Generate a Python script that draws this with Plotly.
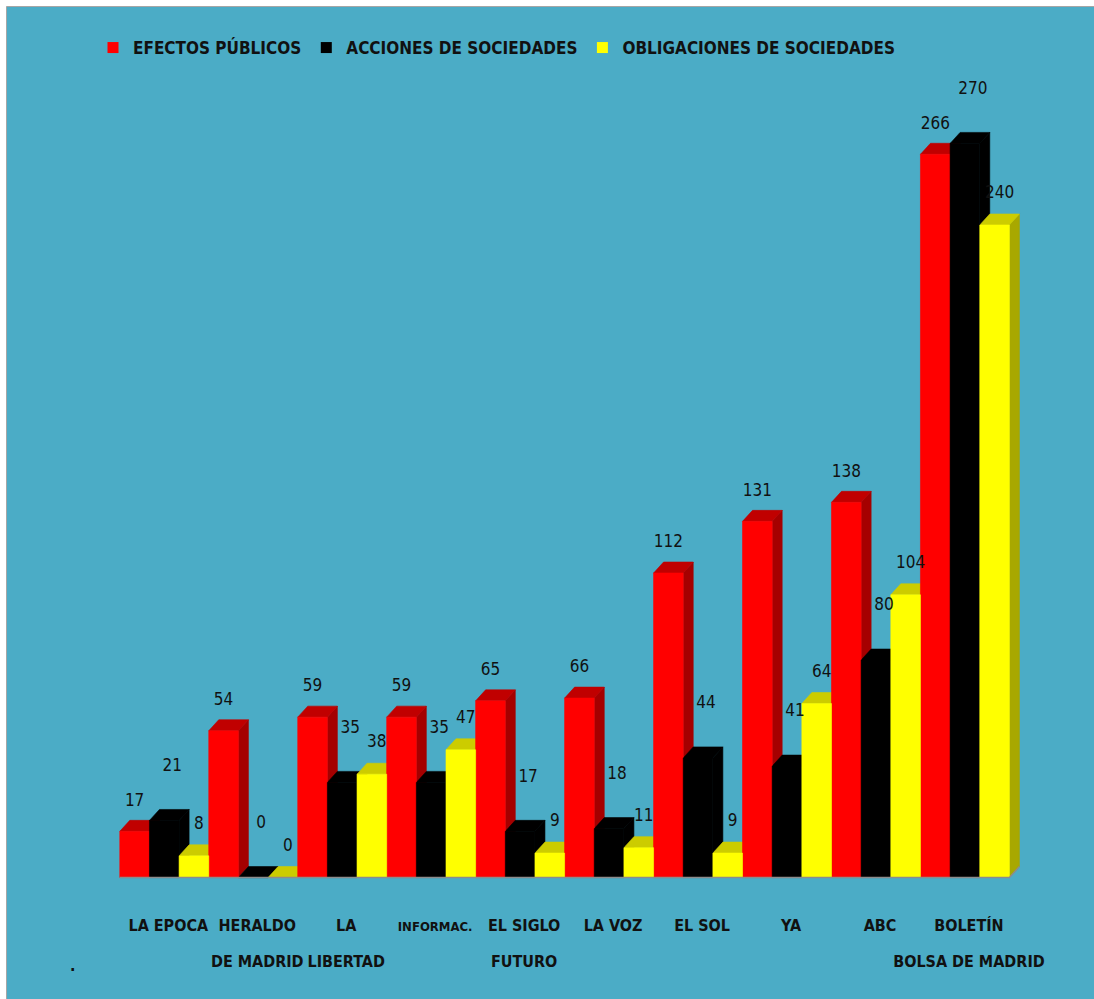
import plotly.graph_objects as go

# ---------------- data ----------------
labels_line1 = ["LA EPOCA", "HERALDO", "LA", "INFORMAC.", "EL SIGLO", "LA VOZ", "EL SOL", "YA", "ABC", "BOLETÍN"]
labels_line2 = ["", "DE MADRID", "LIBERTAD", "", "FUTURO", "", "", "", "", "BOLSA DE MADRID"]
efectos = [17, 54, 59, 59, 65, 66, 112, 131, 138, 266]
acciones = [21, 0, 35, 35, 17, 18, 44, 41, 80, 270]
obligaciones = [8, 0, 38, 47, 9, 11, 9, 64, 104, 240]
series_names = ["EFECTOS PÚBLICOS", "ACCIONES DE SOCIEDADES", "OBLIGACIONES DE SOCIEDADES"]

# ---------------- styling ----------------
TEAL = "#4BACC6"
FONT = "DejaVu Sans Condensed, Liberation Sans Narrow, sans-serif"
front_cols = ["#FF0000", "#000000", "#FFFF00"]
top_cols = ["#C00000", "#000000", "#CCCC00"]
side_cols = ["#A50000", "#000000", "#A8A800"]
label_dx_px = [0, 8, 5]      # label horizontal shift per series (px)
label_dy_px = [30, 54, 31]   # label vertical distance above front top (px)

W, H = 1094, 999
ML, MR, MT, MB = 102, 49, 70, 116
XR = [-0.7, 9.9]
YR = [-2, 297]
pw, ph = W - ML - MR, H - MT - MB
ppx = pw / (XR[1] - XR[0])
ppy = ph / (YR[1] - YR[0])
DX = 10 / ppx   # depth offset in data units
DY = 11 / ppy
BW = 1 / 3

series = [efectos, acciones, obligaciones]
n = len(labels_line1)

fig = go.Figure()

# floor edge
fig.add_trace(go.Scatter(
    x=[-0.5, n - 0.5, n - 0.5 + DX], y=[0, 0, DY], mode="lines",
    line=dict(color="#8C8C8C", width=1.5), hoverinfo="skip", showlegend=False,
    xaxis="x2", yaxis="y"))

def polys(kind, k):
    xs, ys = [], []
    for i, v in enumerate(series[k]):
        l = i - 0.5 + k * BW
        r = l + BW
        if kind == "side":
            px = [r, r + DX, r + DX, r, r]
            py = [0, DY, v + DY, v, 0]
        elif kind == "top":
            px = [l, r, r + DX, l + DX, l]
            py = [v, v, v + DY, v + DY, v]
        else:
            px = [l, r, r, l, l]
            py = [0, 0, v, v, 0]
        xs += px + [None]
        ys += py + [None]
    return xs, ys

for kind, cols in (("side", side_cols), ("top", top_cols), ("front", front_cols)):
    for k in range(3):
        xs, ys = polys(kind, k)
        fig.add_trace(go.Scatter(
            x=xs, y=ys, mode="lines", fill="toself", fillcolor=cols[k],
            line=dict(color=cols[k], width=0.6), hoverinfo="skip",
            showlegend=False))

# value labels
for k in range(3):
    xs = [i - 0.5 + (k + 0.5) * BW + label_dx_px[k] / ppx for i in range(n)]
    ys = [v + label_dy_px[k] / ppy for v in series[k]]
    fig.add_trace(go.Scatter(
        x=xs, y=ys, mode="text", text=[str(v) for v in series[k]],
        textposition="middle center", cliponaxis=False,
        textfont=dict(family=FONT, size=17, color="#111111"),
        hoverinfo="skip", showlegend=False))

# legend entries
for k in range(3):
    fig.add_trace(go.Scatter(
        x=[None], y=[None], mode="markers", name=series_names[k],
        marker=dict(symbol="square", size=11, color=front_cols[k])))

tick1 = [t if t != "INFORMAC." else "<span style='font-size:13px'>INFORMAC.</span>" for t in labels_line1]

fig.update_layout(
    width=W, height=H,
    margin=dict(l=ML, r=MR, t=MT, b=MB, pad=0, autoexpand=False),
    paper_bgcolor="white", plot_bgcolor=TEAL,
    showlegend=True,
    legend=dict(orientation="h", xref="container", yref="container",
                x=93 / W, y=1 - 48 / H, xanchor="left", yanchor="middle",
                font=dict(family=FONT, size=17, color="#111111", weight="bold"),
                bgcolor="rgba(0,0,0,0)", itemwidth=30),
    xaxis=dict(range=XR, tickmode="array", tickvals=list(range(n)), ticktext=tick1,
               showgrid=False, zeroline=False, showline=False, ticks="",
               tickangle=0, automargin=False,
               ticklabelstandoff=31, ticklabelshift=4,
               tickfont=dict(family=FONT, size=16, color="#111111", weight="bold")),
    xaxis2=dict(range=XR, overlaying="x", side="bottom", tickmode="array",
                tickvals=list(range(n)), ticktext=labels_line2,
                showgrid=False, zeroline=False, showline=False, ticks="",
                tickangle=0, automargin=False,
                ticklabelstandoff=67, ticklabelshift=4,
                tickfont=dict(family=FONT, size=16, color="#111111", weight="bold")),
    yaxis=dict(range=YR, visible=False, showgrid=False, zeroline=False),
    shapes=[dict(type="rect", xref="paper", yref="paper",
                 x0=(6.5 - ML) / pw, x1=(W + 20 - ML) / pw,
                 y0=(ph + MT - (H + 20)) / ph, y1=(ph + MT - 6.5) / ph,
                 fillcolor=TEAL, line=dict(color="#A6A6A6", width=1), layer="below")],
    annotations=[dict(text=".", xref="paper", yref="paper",
                      x=(68 - ML) / pw, y=(ph + MT - 977) / ph, showarrow=False,
                      font=dict(family=FONT, size=16, color="#111111", weight="bold"))],
)

fig.write_html("out.html", config={"displayModeBar": False},
               post_script="document.body.style.margin='0';")
